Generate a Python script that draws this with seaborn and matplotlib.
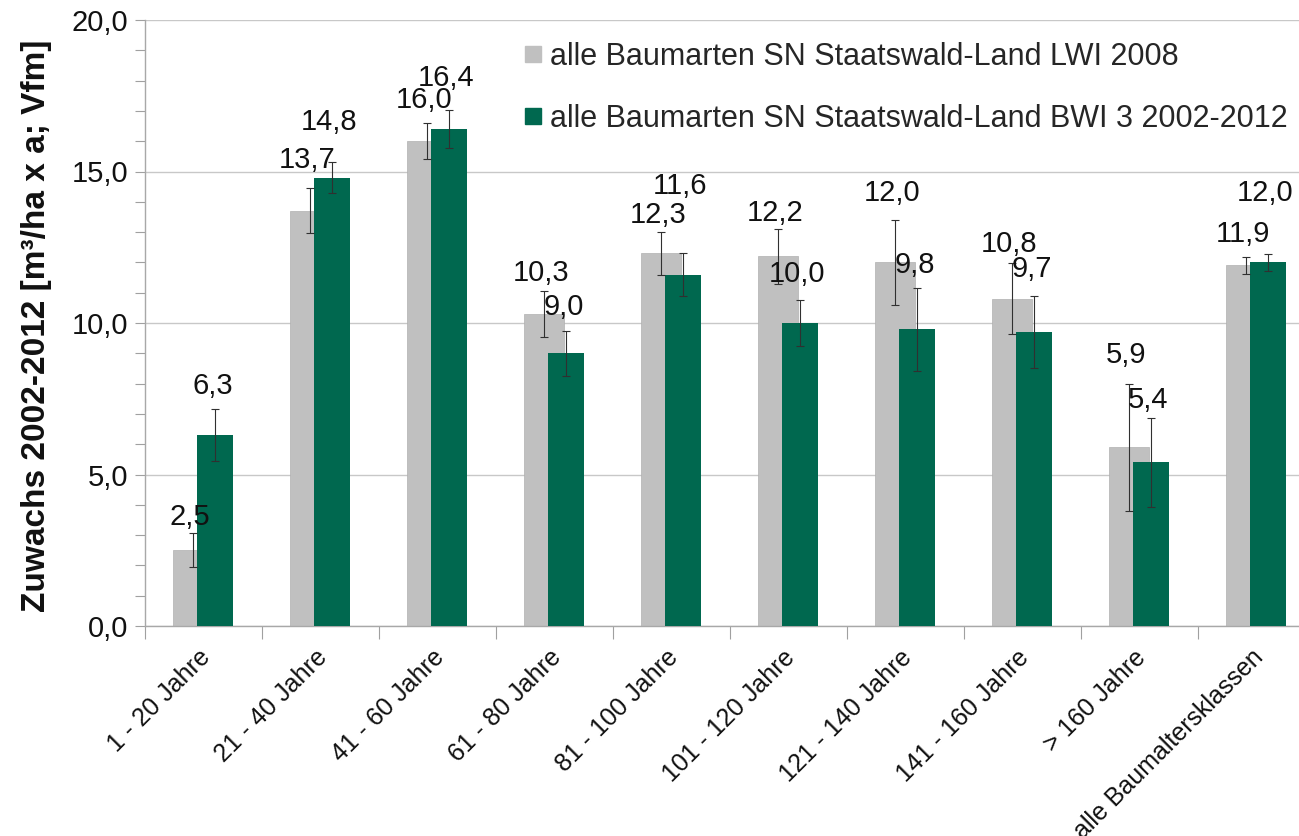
import matplotlib
matplotlib.use("Agg")
import matplotlib.pyplot as plt
import matplotlib.transforms as mtransforms
from matplotlib.lines import Line2D
from matplotlib.ticker import FixedLocator, MultipleLocator, FuncFormatter
import seaborn as sns
import pandas as pd
import numpy as np

categories = ["1 - 20 Jahre", "21 - 40 Jahre", "41 - 60 Jahre", "61 - 80 Jahre",
              "81 - 100 Jahre", "101 - 120 Jahre", "121 - 140 Jahre",
              "141 - 160 Jahre", "> 160 Jahre", "alle Baumaltersklassen"]
series_names = ["alle Baumarten SN Staatswald-Land LWI 2008",
                "alle Baumarten SN Staatswald-Land BWI 3 2002-2012"]
lwi_values = [2.5, 13.7, 16.0, 10.3, 12.3, 12.2, 12.0, 10.8, 5.9, 11.9]
lwi_err = [0.56, 0.74, 0.6, 0.75, 0.7, 0.9, 1.4, 1.17, 2.1, 0.28]
bwi_values = [6.3, 14.8, 16.4, 9.0, 11.6, 10.0, 9.8, 9.7, 5.4, 12.0]
bwi_err = [0.86, 0.5, 0.63, 0.75, 0.7, 0.75, 1.37, 1.2, 1.46, 0.28]

# label extra vertical offsets (px) above the error-bar top
lwi_label_dy = [-4, 8, 3, -2, -3, -4, 7, -1, 9, 3]
bwi_label_dy = [3, 20, 12, 4, 47, 6, 3, 7, -2, 41]

GRAY = "#C0C0C0"
GREEN = "#00684F"
FONT = ["Liberation Sans", "DejaVu Sans"]

sns.set_theme(style="white")
plt.rcParams["font.family"] = FONT

W, H, DPI = 1299, 836, 100
fig = plt.figure(figsize=(W / DPI, H / DPI), dpi=DPI)
left_px, right_px, top_px, bot_px = 145, 1315, 20, 626
ax = fig.add_axes([left_px / W, 1 - bot_px / H, (right_px - left_px) / W, (bot_px - top_px) / H])
ax.set_facecolor("white")

n = len(categories)
idx = np.arange(n)
off_g, off_b = -0.09, 0.10
w_g, w_b = 0.34, 0.31

df_g = pd.DataFrame({"pos": idx + off_g, "value": lwi_values})
df_b = pd.DataFrame({"pos": idx + off_b, "value": bwi_values})

sns.barplot(data=df_g, x="pos", y="value", native_scale=True, width=w_g,
            color=GRAY, saturation=1, ax=ax, errorbar=None, zorder=2,
            edgecolor="#b0b0b0", linewidth=0.5)
sns.barplot(data=df_b, x="pos", y="value", native_scale=True, width=w_b,
            color=GREEN, saturation=1, ax=ax, errorbar=None, zorder=3,
            linewidth=0)

ax.errorbar(idx + off_g, lwi_values, yerr=lwi_err, fmt="none", ecolor="#303030",
            elinewidth=0.8, capsize=3, capthick=0.8, zorder=4)
ax.errorbar(idx + off_b, bwi_values, yerr=bwi_err, fmt="none", ecolor="#303030",
            elinewidth=0.8, capsize=3, capthick=0.8, zorder=5)

def fmt(v):
    return f"{v:.1f}".replace(".", ",")

for i in range(n):
    for vals, errs, dys, off in ((lwi_values, lwi_err, lwi_label_dy, off_g),
                                 (bwi_values, bwi_err, bwi_label_dy, off_b)):
        ax.annotate(fmt(vals[i]), xy=(i + off, vals[i] + errs[i]),
                    xytext=(-2, (20 + dys[i]) * 72 / DPI), textcoords="offset points",
                    ha="center", va="center", fontsize=21, color="#111111", zorder=6)

ax.set_xlim(-0.5, -0.5 + (right_px - left_px) / 117.0)
ax.set_ylim(0, 20)
ax.set_xlabel("")
ax.set_ylabel("Zuwachs 2002-2012 [m³/ha x a; Vfm]", fontsize=24, fontweight="bold",
              color="#111111")
ax.yaxis.set_label_coords((52 - left_px) / (right_px - left_px), 0.495)

ax.yaxis.set_major_locator(MultipleLocator(5))
ax.yaxis.set_minor_locator(MultipleLocator(1))
ax.yaxis.set_major_formatter(FuncFormatter(lambda v, p: fmt(v)))
ax.tick_params(axis="y", which="both", left=True, direction="out", length=7,
               width=0.8, color="#a0a0a0", labelsize=21, labelcolor="#111111", pad=5)

ax.xaxis.set_major_locator(FixedLocator(idx))
ax.set_xticklabels(categories)
ax.xaxis.set_minor_locator(FixedLocator(np.arange(n + 1) - 0.5))
ax.tick_params(axis="x", which="major", bottom=True, length=0, labelsize=18,
               labelcolor="#111111", pad=14)
ax.tick_params(axis="x", which="minor", bottom=True, length=9, width=0.8, color="#a0a0a0")
for lab in ax.get_xticklabels():
    lab.set_rotation(45)
    lab.set_ha("right")
    lab.set_va("top")
    lab.set_rotation_mode("anchor")
    lab.set_transform(lab.get_transform() + mtransforms.ScaledTranslation(-4 / 72, 0, fig.dpi_scale_trans))

ax.yaxis.grid(True, color="#c8c8c8", linewidth=1)
ax.xaxis.grid(False)
ax.set_axisbelow(True)
for s in ["top", "right"]:
    ax.spines[s].set_visible(False)
for s in ["left", "bottom"]:
    ax.spines[s].set_color("#a8a8a8")
    ax.spines[s].set_linewidth(1)

handles = [Line2D([], [], marker="s", linestyle="none", markersize=12,
                  markerfacecolor=c, markeredgecolor=c) for c in (GRAY, GREEN)]
fig.legend(handles, series_names, loc="upper left",
           bbox_to_anchor=(518 / W, 1 - 42 / H), frameon=False, fontsize=22,
           handletextpad=0.05, handlelength=1.0, labelspacing=1.05, borderpad=0,
           borderaxespad=0)

fig.savefig("out.png", dpi=DPI)
